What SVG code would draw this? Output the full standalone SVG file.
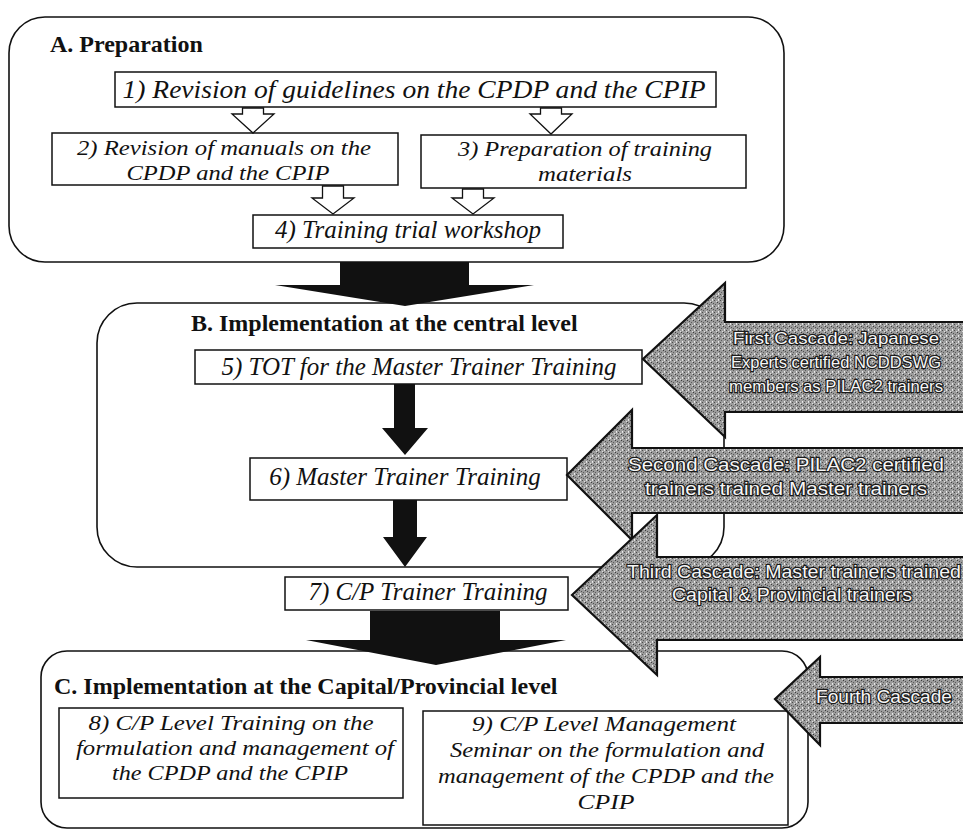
<svg xmlns="http://www.w3.org/2000/svg" width="963" height="830" viewBox="0 0 963 830">
<style>
.panel{fill:none;stroke:#111;stroke-width:1.6}
.box{fill:#fff;stroke:#111;stroke-width:1.5}
.lbl{font-family:"Liberation Serif",serif;font-weight:bold;font-size:24px;fill:#111}
.t{font-family:"Liberation Serif",serif;font-style:italic;font-size:25px;fill:#111;text-anchor:middle}
.tm{font-family:"Liberation Serif",serif;font-style:italic;font-size:21px;fill:#111;text-anchor:middle}
.hollow{fill:#fff;stroke:#111;stroke-width:1.3;stroke-linejoin:miter}
.solid{fill:#111;stroke:none}
.casc{fill:url(#dith);stroke:#111;stroke-width:2.2;stroke-linejoin:miter}
.ct{font-family:"Liberation Sans",Arial,sans-serif;font-size:19px;fill:#f6f6f6;stroke:#1a1a1a;stroke-width:2.4;paint-order:stroke;text-anchor:middle}
.ct1{font-size:17px}
</style>
<defs>
<pattern id="dith" width="6" height="6" patternUnits="userSpaceOnUse">
<rect width="6" height="6" fill="#9c9c9c"/>
<rect x="0" y="0" width="1" height="1" fill="#4a4a4a"/>
<rect x="3" y="2" width="1" height="1" fill="#3c3c3c"/>
<rect x="1" y="4" width="1" height="1" fill="#5c5c5c"/>
<rect x="4" y="5" width="1" height="1" fill="#ececec"/>
<rect x="2" y="1" width="1" height="1" fill="#dedede"/>
<rect x="5" y="3" width="1" height="1" fill="#505050"/>
<rect x="4" y="0" width="1" height="1" fill="#e0e0e0"/>
</pattern>
</defs>
<rect width="963" height="830" fill="#fff"/>

<g id="panelA">
<rect class="panel" x="9" y="17" width="775" height="245" rx="36"/>
<text class="lbl" x="50" y="52">A. Preparation</text>
</g>
<g id="panelB">
<rect class="panel" x="97" y="303" width="627" height="264" rx="40"/>
<text class="lbl" x="191" y="331">B. Implementation at the central level</text>
</g>
<g id="panelC">
<rect class="panel" x="41" y="651" width="767" height="177" rx="26"/>
<text class="lbl" x="54" y="694">C. Implementation at the Capital/Provincial level</text>
</g>

<g id="n1">
<rect class="box" x="115" y="72" width="601" height="35"/>
<text class="t" x="414" y="98" textLength="583" lengthAdjust="spacingAndGlyphs">1) Revision of guidelines on the CPDP and the CPIP</text>
</g>
<g id="n2">
<rect class="box" x="52" y="133" width="346" height="52"/>
<text class="tm" x="224" y="155" textLength="294" lengthAdjust="spacingAndGlyphs">2) Revision of manuals on the</text>
<text class="tm" x="228" y="180" textLength="203" lengthAdjust="spacingAndGlyphs">CPDP and the CPIP</text>
</g>
<g id="n3">
<rect class="box" x="421" y="135" width="325" height="53"/>
<text class="tm" x="585" y="156" textLength="254" lengthAdjust="spacingAndGlyphs">3) Preparation of training</text>
<text class="tm" x="585" y="181" textLength="94" lengthAdjust="spacingAndGlyphs">materials</text>
</g>
<g id="n4">
<rect class="box" x="253" y="215" width="310" height="33"/>
<text class="t" x="408" y="238">4) Training trial workshop</text>
</g>
<g id="n5">
<rect class="box" x="195" y="350" width="447" height="34"/>
<text class="t" x="419" y="375">5) TOT for the Master Trainer Training</text>
</g>
<g id="n6">
<rect class="box" x="250" y="458" width="317" height="42"/>
<text class="t" x="405" y="485">6) Master Trainer Training</text>
</g>
<g id="n7">
<rect class="box" x="285" y="577" width="283" height="33"/>
<text class="t" x="428" y="600">7) C/P Trainer Training</text>
</g>
<g id="n8">
<rect class="box" x="59" y="708" width="344" height="90"/>
<text class="tm" x="231" y="730" textLength="285" lengthAdjust="spacingAndGlyphs">8) C/P Level Training on the</text>
<text class="tm" x="235" y="755" textLength="318" lengthAdjust="spacingAndGlyphs">formulation and management of</text>
<text class="tm" x="230" y="780" textLength="236" lengthAdjust="spacingAndGlyphs">the CPDP and the CPIP</text>
</g>
<g id="n9">
<rect class="box" x="423" y="711" width="365" height="114"/>
<text class="tm" x="604" y="731" textLength="264" lengthAdjust="spacingAndGlyphs">9) C/P Level Management</text>
<text class="tm" x="607" y="757" textLength="314" lengthAdjust="spacingAndGlyphs">Seminar on the formulation and</text>
<text class="tm" x="606" y="783" textLength="336" lengthAdjust="spacingAndGlyphs">management of the CPDP and the</text>
<text class="tm" x="606" y="809" textLength="57" lengthAdjust="spacingAndGlyphs">CPIP</text>
</g>

<g id="connectors">
<path class="hollow" d="M242.5,108 L263.5,108 L263.5,114 L274,114 L253,133 L232,114 L242.5,114 Z"/>
<path class="hollow" d="M540.5,108 L561.5,108 L561.5,114 L572,114 L551,134 L530,114 L540.5,114 Z"/>
<path class="hollow" d="M322.5,186 L343.5,186 L343.5,198 L354,198 L333,214 L312,198 L322.5,198 Z"/>
<path class="hollow" d="M462.5,189 L483.5,189 L483.5,198 L494,198 L473,214 L452,198 L462.5,198 Z"/>
<path class="solid" d="M340,262 L469,262 L469,285 L534,285 L405,306 L275,285 L340,285 Z"/>
<path class="solid" d="M394,384 L415,384 L415,428 L428,428 L405,455 L382,428 L394,428 Z"/>
<path class="solid" d="M393,500 L417,500 L417,537 L427,537 L405,567 L383,537 L393,537 Z"/>
<path class="solid" d="M370,611 L500,611 L500,640 L566,640 L436,665 L306,640 L370,640 Z"/>
</g>

<g id="cascade1">
<path class="casc" d="M643,359 L725,283 L725,322 L966,322 L966,412 L725,412 L725,437 Z"/>
<text class="ct ct1" x="836" y="344" textLength="206" lengthAdjust="spacingAndGlyphs">First Cascade: Japanese</text>
<text class="ct ct1" x="836" y="368" textLength="210" lengthAdjust="spacingAndGlyphs">Experts certified NCDDSWG</text>
<text class="ct ct1" x="836" y="392" textLength="214" lengthAdjust="spacingAndGlyphs">members as PILAC2 trainers</text>
</g>
<g id="cascade2">
<path class="casc" d="M567,475 L632,410 L632,448 L966,448 L966,513 L632,513 L632,540 Z"/>
<text class="ct" x="786" y="471" textLength="316" lengthAdjust="spacingAndGlyphs">Second Cascade: PILAC2 certified</text>
<text class="ct" x="786" y="495" textLength="282" lengthAdjust="spacingAndGlyphs">trainers trained Master trainers</text>
</g>
<g id="cascade3">
<path class="casc" d="M572,595 L657,515 L657,557 L966,557 L966,640 L657,640 L657,675 Z"/>
<text class="ct" x="794" y="578" textLength="334" lengthAdjust="spacingAndGlyphs">Third Cascade: Master trainers trained</text>
<text class="ct" x="792" y="601" textLength="240" lengthAdjust="spacingAndGlyphs">Capital &amp; Provincial trainers</text>
</g>
<g id="cascade4">
<path class="casc" d="M775,699 L820,657 L820,677 L966,677 L966,723 L820,723 L820,745 Z"/>
<text class="ct" x="884" y="703" textLength="136" lengthAdjust="spacingAndGlyphs">Fourth Cascade</text>
</g>
</svg>
